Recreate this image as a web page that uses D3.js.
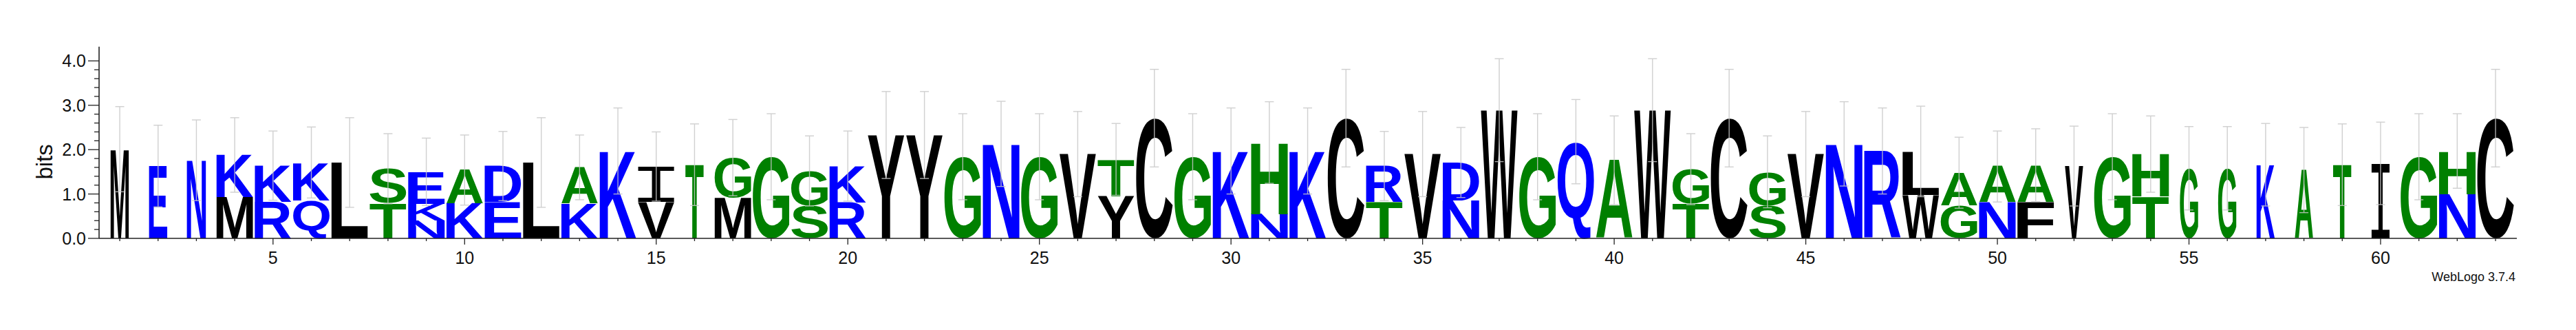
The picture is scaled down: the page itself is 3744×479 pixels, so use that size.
<!DOCTYPE html>
<html>
<head>
<meta charset="utf-8">
<script src="https://cdn.jsdelivr.net/npm/d3@7"></script>
<style>
  html, body { margin: 0; padding: 0; background: #fff; }
  svg { display: block; }
</style>
</head>
<body>
<svg id="chart" width="3744" height="479"></svg>
<script>
// ---------- DATA ----------
const positions = [1,2,3,4,5,6,7,8,9,10,11,12,13,14,15,16,17,18,19,20,21,22,23,24,25,26,27,28,29,30,31,32,33,34,35,36,37,38,39,40,41,42,43,44,45,46,47,48,49,50,51,52,53,54,55,56,57,58,59,60,61,62,63];
// letters of each stack, bottom to top
const stackLetters = ["M","E","N","MK","RK","QK","L","TS","NKE","KA","ED","L","KA","K","VI","T","MG","G","SG","RK","Y","Y","G","N","G","V","YT","C","G","K","NH","K","C","TR","V","ND","W","G","Q","A","W","TG","C","SG","V","N","R","WL","GA","NA","FA","V","G","TH","G","G","K","A","T","I","G","NH","C"];
// height (bits) of each letter, bottom to top
const stackHeights = [
  [2.01],[1.63],[1.76],[0.93,0.95],[0.83,0.81],[0.86,0.85],[1.71],[0.79,0.78],[0.40,0.38,0.72],[0.79,0.75],
  [0.82,0.81],[1.71],[0.78,0.82],[1.97],[0.82,0.80],[1.66],[0.92,0.90],[1.84],[0.74,0.78],[0.81,0.82],
  [2.33],[2.33],[1.84],[2.13],[1.84],[1.90],[0.95,0.83],[2.71],[1.84],[1.97],
  [0.55,1.61],[1.97],[2.71],[0.82,0.81],[1.90],[0.86,0.85],[2.89],[1.84],[2.18],[1.76],
  [2.89],[0.78,0.78],[2.71],[0.74,0.76],[1.90],[2.13],[1.97],[0.98,0.98],[0.74,0.74],[0.81,0.81],
  [0.82,0.83],[1.63],[1.84],[0.95,0.95],[1.58],[1.58],[1.66],[1.54],[1.66],[1.69],
  [1.84],[1.00,0.97],[2.71]
];
// half-length of the error bar (bits)
const errorBars = [
  0.96,0.92,0.91,0.84,0.78,0.80,1.01,0.79,0.76,0.79,
  0.78,1.01,0.73,0.97,0.78,0.92,0.86,0.97,0.79,0.79,
  0.98,0.98,0.97,0.96,0.97,0.96,0.81,1.10,0.97,0.97,
  0.92,0.97,1.10,0.78,0.96,0.79,1.16,0.97,0.95,1.00,
  1.16,0.80,1.10,0.81,0.96,0.95,0.97,1.02,0.80,0.80,
  0.82,0.90,0.97,0.86,0.94,0.94,0.93,0.96,0.92,0.93,
  0.97,0.84,1.10
];
// fraction of stack width (occupancy)
const widthFractions = [
  0.5,0.5,0.52,1,1,1,1,1,1,1,
  1,1,1,1,1,0.5,1,1,1,1,
  1,1,1,1,1,1,1,1,1,1,
  1,1,1,1,1,1,1,1,1,1,
  1,1,1,1,1,1,1,1,1,1,
  1,0.5,1,1,0.5,0.5,0.5,0.5,0.5,0.5,
  1,1,1
];
const yTickValues = [0, 1, 2, 3, 4];
const yTickLabels = ["0.0", "1.0", "2.0", "3.0", "4.0"];
const xTickLabels = [5, 10, 15, 20, 25, 30, 35, 40, 45, 50, 55, 60];
const colorGroups = { blue: "RKDENQ", green: "SGHTAP", black: "YVMCLFIW" };
const yLabel = "bits";
const footer = "WebLogo 3.7.4";

// ---------- SCALES ----------
const svg = d3.select("#chart");
svg.append("rect").attr("width", 3744).attr("height", 479).attr("fill", "#fff");

const x = d3.scaleLinear().domain([0.5, 63.5]).range([146.2, 3654.9]);
const y = d3.scaleLinear().domain([0, 4.32]).range([346, 67.8]);
const colorOf = ch => colorGroups.blue.includes(ch) ? "#0000ff" : colorGroups.green.includes(ch) ? "#008000" : "#000000";

// ---------- GLYPH MEASURE ----------
const FS = 200;
const canvas = document.createElement("canvas");
const ctx = canvas.getContext("2d");
const fontFor = ch => ch === "I" ? "Liberation Mono" : "Liberation Sans";
const weightFor = ch => ch === "I" ? "normal" : "bold";
const metricCache = {};
function metrics(ch) {
  if (metricCache[ch]) return metricCache[ch];
  ctx.font = `${weightFor(ch)} ${FS}px "${fontFor(ch)}"`;
  const m = ctx.measureText(ch);
  const r = { l: m.actualBoundingBoxLeft, r: m.actualBoundingBoxRight, a: m.actualBoundingBoxAscent, d: m.actualBoundingBoxDescent };
  metricCache[ch] = r;
  return r;
}

// ---------- LETTERS ----------
const step = x(2) - x(1);
const gLetters = svg.append("g");
positions.forEach((p, i) => {
  const letters = stackLetters[i].split("");
  const hs = stackHeights[i];
  const w = step * 0.955 * widthFractions[i];
  const x0 = x(p) - w / 2;
  let base = 0;
  letters.forEach((ch, j) => {
    const h = hs[j];
    const yTop = y(base + h), yBot = y(base);
    const H = yBot - yTop;
    const m = metrics(ch);
    const gw = m.l + m.r, gh = m.a + m.d;
    gLetters.append("text")
      .attr("transform", `translate(${x0},${yTop}) scale(${w / gw},${H / gh}) translate(${m.l},${m.a})`)
      .attr("font-family", fontFor(ch))
      .attr("font-weight", weightFor(ch))
      .attr("font-size", FS)
      .attr("fill", colorOf(ch))
      .text(ch);
    base += h;
  });
});

// ---------- ERROR BARS ----------
const gErr = svg.append("g").attr("stroke", "#c8c8c8").attr("stroke-width", 1.4).attr("opacity", 0.85);
positions.forEach((p, i) => {
  const top = d3.sum(stackHeights[i]);
  const e = errorBars[i];
  const cx = x(p);
  const y1 = y(top + e), y2 = y(top - e);
  gErr.append("line").attr("x1", cx).attr("x2", cx).attr("y1", y1).attr("y2", y2);
  gErr.append("line").attr("x1", cx - 6.5).attr("x2", cx + 6.5).attr("y1", y1).attr("y2", y1);
  gErr.append("line").attr("x1", cx - 6.5).attr("x2", cx + 6.5).attr("y1", y2).attr("y2", y2);
});

// ---------- AXES ----------
const gAxis = svg.append("g").attr("stroke", "#222").attr("fill", "none");
gAxis.append("line").attr("x1", 144).attr("x2", 144).attr("y1", y(0)).attr("y2", y(4.32)).attr("stroke-width", 1.6);
d3.range(0, 21).forEach(k => {
  const v = k / 5;
  const major = k % 5 === 0;
  gAxis.append("line").attr("x1", major ? 128 : 137).attr("x2", 144)
    .attr("y1", y(v)).attr("y2", y(v)).attr("stroke-width", 1.3);
});
svg.append("g").selectAll("text").data(yTickValues).join("text")
  .attr("x", 125).attr("y", d => y(d)).attr("dy", "0.36em")
  .attr("text-anchor", "end").attr("font-family", "Liberation Sans").attr("font-size", 25).attr("fill", "#111")
  .text((d, i) => yTickLabels[i]);
svg.append("text").attr("transform", `translate(76,${(y(0) + y(4.32)) / 2 + 28}) rotate(-90)`)
  .attr("text-anchor", "middle").attr("font-family", "Liberation Sans").attr("font-size", 33).attr("fill", "#111")
  .text(yLabel);

gAxis.append("line").attr("x1", 144).attr("x2", 3658).attr("y1", y(0)).attr("y2", y(0)).attr("stroke-width", 1.6);
positions.forEach(p => {
  const labeled = xTickLabels.includes(p);
  gAxis.append("line").attr("x1", x(p)).attr("x2", x(p)).attr("y1", y(0)).attr("y2", y(0) + (labeled ? 9 : 4)).attr("stroke-width", 1.3);
});
svg.append("g").selectAll("text").data(xTickLabels).join("text")
  .attr("x", d => x(d)).attr("y", 382.5)
  .attr("text-anchor", "middle").attr("font-family", "Liberation Sans").attr("font-size", 25).attr("fill", "#111")
  .text(d => d);

svg.append("text").attr("x", 3656).attr("y", 408).attr("text-anchor", "end")
  .attr("font-family", "Liberation Sans").attr("font-size", 18).attr("fill", "#111").text(footer);
</script>
</body>
</html>
